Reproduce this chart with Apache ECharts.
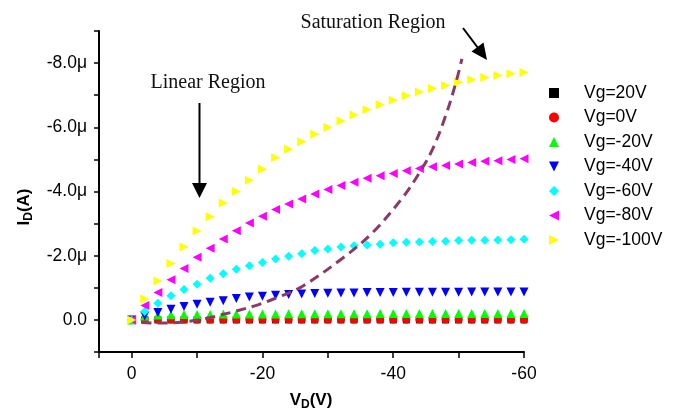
<!DOCTYPE html>
<html><head><meta charset="utf-8">
<script src="https://cdn.jsdelivr.net/npm/echarts@6/dist/echarts.min.js"></script>
<style>html,body{margin:0;padding:0;background:#fff}#c{width:674px;height:412px}</style>
</head><body><div id="c"></div>
<script>
// Drain voltage VD (V)
const vd = [0,-2,-4,-6,-8,-10,-12,-14,-16,-18,-20,-22,-24,-26,-28,-30,-32,-34,-36,-38,-40,-42,-44,-46,-48,-50,-52,-54,-56,-58,-60];
// Drain current ID in µA for each gate voltage
const vg20 = [0,0,0,0,0,0,0,0,0,0,0,0,0,0,0,0,0,0,0,0,0,0,0,0,0,0,0,0,0,0,0];
const vg0 = [0,-0.01,-0.01,-0.01,-0.01,-0.01,-0.01,-0.01,-0.01,-0.01,-0.01,-0.01,-0.01,-0.01,-0.01,-0.01,-0.01,-0.01,-0.01,-0.01,-0.01,-0.01,-0.01,-0.01,-0.01,-0.01,-0.01,-0.01,-0.01,-0.01,-0.01];
const vgm20 = [0,-0.12,-0.15,-0.16,-0.17,-0.17,-0.17,-0.18,-0.18,-0.18,-0.18,-0.18,-0.19,-0.19,-0.19,-0.19,-0.19,-0.19,-0.19,-0.2,-0.2,-0.2,-0.2,-0.2,-0.2,-0.2,-0.2,-0.2,-0.2,-0.2,-0.2];
const vgm40 = [0,-0.12,-0.23,-0.33,-0.42,-0.49,-0.55,-0.60,-0.67,-0.71,-0.74,-0.77,-0.79,-0.81,-0.82,-0.83,-0.84,-0.84,-0.85,-0.85,-0.85,-0.86,-0.86,-0.86,-0.86,-0.86,-0.87,-0.87,-0.87,-0.87,-0.87];
const vgm60 = [0,-0.26,-0.52,-0.75,-0.95,-1.11,-1.30,-1.44,-1.58,-1.69,-1.79,-1.90,-1.98,-2.06,-2.16,-2.21,-2.27,-2.31,-2.33,-2.36,-2.40,-2.42,-2.43,-2.44,-2.45,-2.47,-2.48,-2.48,-2.49,-2.50,-2.51];
const vgm80 = [0,-0.45,-0.85,-1.25,-1.60,-1.95,-2.23,-2.52,-2.78,-3.02,-3.23,-3.44,-3.61,-3.77,-3.92,-4.06,-4.19,-4.29,-4.41,-4.49,-4.56,-4.65,-4.72,-4.77,-4.81,-4.86,-4.90,-4.94,-4.96,-5.00,-5.02];
const vgm100 = [0,-0.65,-1.21,-1.76,-2.27,-2.77,-3.21,-3.64,-4.00,-4.35,-4.69,-5.05,-5.32,-5.55,-5.78,-5.99,-6.20,-6.38,-6.55,-6.70,-6.84,-6.98,-7.10,-7.21,-7.30,-7.40,-7.48,-7.55,-7.61,-7.67,-7.71];
// Saturation boundary (dashed curve)
const satX = [-1.5,-4.5,-8.5,-11.5,-15.7,-19.3,-22.3,-25.9,-32.3,-36.8,-41.4,-44.0,-46.0,-48.0,-49.6,-50.5];
const satY = [0.08,0.10,0.05,-0.05,-0.26,-0.47,-0.70,-1.02,-1.93,-2.71,-3.80,-4.58,-5.31,-6.35,-7.40,-8.13];
const seriesNames = ['Vg=20V','Vg=0V','Vg=-20V','Vg=-40V','Vg=-60V','Vg=-80V','Vg=-100V'];
const yTickLabels = {'-8':'-8.0μ','-6':'-6.0μ','-4':'-4.0μ','-2':'-2.0μ','0':'0.0'};
const xTickLabels = {'0':'0','-20':'-20','-40':'-40','-60':'-60'};

const pair = arr => vd.map((x, i) => [x, arr[i]]);
const FONT = 'Liberation Sans';
const chart = echarts.init(document.getElementById('c'), null, {renderer: 'canvas'});

const TRI_DOWN = 'path://M0,0L10,0L5,10Z';
const TRI_LEFT = 'path://M10,0L10,10L0,5Z';
const TRI_RIGHT = 'path://M0,0L0,10L10,5Z';
const specs = [
  {name: seriesNames[0], data: vg20, color: '#000000', symbol: 'rect', size: 7},
  {name: seriesNames[1], data: vg0, color: '#ff0000', symbol: 'circle', size: 8},
  {name: seriesNames[2], data: vgm20, color: '#00ff00', symbol: 'triangle', size: 9},
  {name: seriesNames[3], data: vgm40, color: '#0000ff', symbol: TRI_DOWN, size: 9},
  {name: seriesNames[4], data: vgm60, color: '#00ffff', symbol: 'diamond', size: 9},
  {name: seriesNames[5], data: vgm80, color: '#ff00ff', symbol: TRI_LEFT, size: 9},
  {name: seriesNames[6], data: vgm100, color: '#ffff00', symbol: TRI_RIGHT, size: 9}
];

const series = specs.map(s => ({
  type: 'scatter', name: s.name, data: pair(s.data),
  symbol: s.symbol, symbolSize: s.size,
  itemStyle: {color: s.color, opacity: 1}, z: 2
}));
series.push({
  type: 'line', name: 'sat', data: satX.map((x, i) => [x, satY[i]]),
  smooth: 0.35, symbol: 'none', z: 3,
  lineStyle: {color: '#8b3a68', width: 3, type: [10, 6]}
});

const option = {
  animation: false,
  backgroundColor: '#ffffff',
  grid: {left: 99, right: 150, top: 31, bottom: 60},
  xAxis: {
    type: 'value', inverse: true, min: -60, max: 5, interval: 10,
    axisLine: {onZero: false, lineStyle: {color: '#000', width: 2}},
    axisTick: {length: 6, lineStyle: {color: '#000', width: 1.5}},
    splitLine: {show: false},
    axisLabel: {margin: 13, color: '#000', fontSize: 17.5, fontFamily: FONT,
      formatter: v => xTickLabels[String(v)] || ''}
  },
  yAxis: {
    type: 'value', inverse: true, min: -9, max: 1, interval: 1,
    axisLine: {onZero: false, lineStyle: {color: '#000', width: 2}},
    axisTick: {length: 5, lineStyle: {color: '#000', width: 1.5}},
    splitLine: {show: false},
    axisLabel: {margin: 12, color: '#000', fontSize: 17.5, fontFamily: FONT,
      formatter: v => yTickLabels[String(v)] || ''}
  },
  legend: {
    data: seriesNames, orient: 'vertical', left: 544, top: 79,
    itemWidth: 10, itemHeight: 10, itemGap: 6.5,
    textStyle: {fontSize: 17.5, fontFamily: FONT, color: '#000', padding: [0, 0, 0, 20]}
  },
  graphic: [
    {type: 'text', x: 208, y: 83, style: {text: 'Linear Region', font: '20px "Liberation Serif"', fill: '#111', align: 'center', verticalAlign: 'middle'}},
    {type: 'line', shape: {x1: 199.5, y1: 103, x2: 199.5, y2: 185}, style: {stroke: '#000', lineWidth: 2}},
    {type: 'polygon', shape: {points: [[192, 183], [207, 183], [199.5, 198]]}, style: {fill: '#000'}},
    {type: 'text', x: 373, y: 23, style: {text: 'Saturation Region', font: '20px "Liberation Serif"', fill: '#111', align: 'center', verticalAlign: 'middle'}},
    {type: 'line', shape: {x1: 463, y1: 28, x2: 478, y2: 48}, style: {stroke: '#000', lineWidth: 2}},
    {type: 'polygon', shape: {points: [[471.5, 51.5], [483.5, 42.5], [487, 60]]}, style: {fill: '#000'}},
    {type: 'text', x: 24, y: 207, rotation: Math.PI / 2,
      style: {text: '{a|I}{b|D}{a|(A)}', align: 'center', verticalAlign: 'middle',
        rich: {a: {fontSize: 17, fontWeight: 'bold', fontFamily: FONT, fill: '#000', verticalAlign: 'middle'},
               b: {fontSize: 12, fontWeight: 'bold', fontFamily: FONT, fill: '#000', padding: [9, 0, 0, 0], verticalAlign: 'middle'}}}},
    {type: 'text', x: 311, y: 400,
      style: {text: '{a|V}{b|D}{a|(V)}', align: 'center', verticalAlign: 'middle',
        rich: {a: {fontSize: 17, fontWeight: 'bold', fontFamily: FONT, fill: '#000', verticalAlign: 'middle'},
               b: {fontSize: 12, fontWeight: 'bold', fontFamily: FONT, fill: '#000', padding: [9, 0, 0, 0], verticalAlign: 'middle'}}}}
  ],
  series: series
};
chart.setOption(option);
</script></body></html>
